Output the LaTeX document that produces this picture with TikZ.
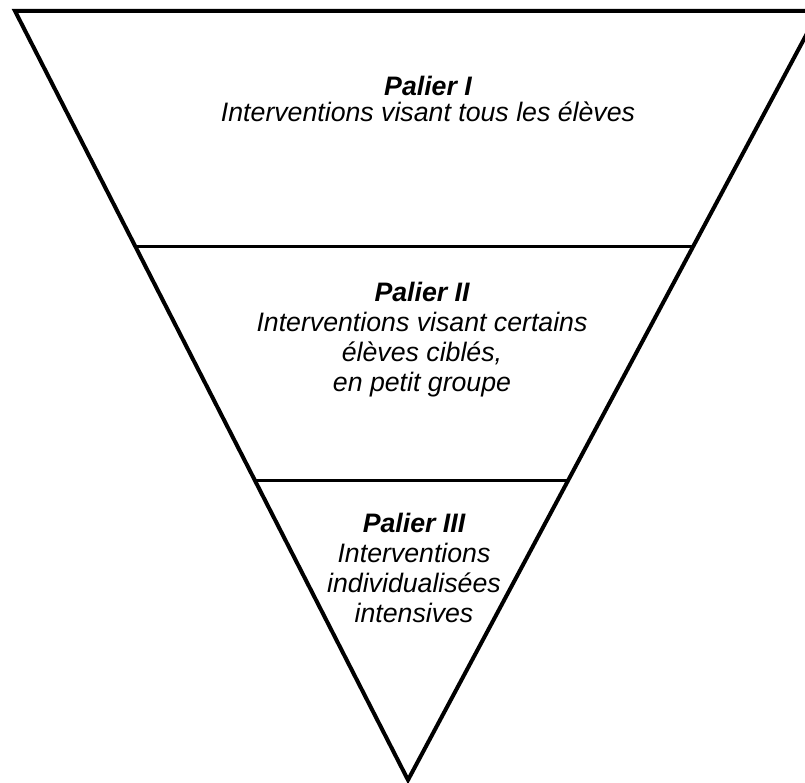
\documentclass[tikz,border=0pt]{standalone}
\usepackage{fontspec}
\setmainfont{Liberation Sans}
\usetikzlibrary{calc}
\begin{document}
\begin{tikzpicture}[x=1pt, y=1pt, edge/.style={line width=4pt, miter limit=20},
  tier/.style={line width=3pt},
  lbl/.style={align=center, anchor=base, font=\fontsize{26.7}{30}\selectfont\itshape, inner sep=0pt}]
\useasboundingbox (0,0) rectangle (805,782);
\clip (0,0) rectangle (805,782);
\coordinate (tl) at (15,771);
\coordinate (tr) at (819,771);
\coordinate (apex) at (408,2);
\draw[edge] (tl) -- (tr) -- (apex) -- cycle;
%tier lines
\draw[tier] ($(tl)!0.3056!(apex)$) -- ($(tr)!0.3056!(apex)$);
\draw[tier] ($(tl)!0.611!(apex)$) -- ($(tr)!0.611!(apex)$);
%palier 1
\path (428,660) node[lbl] (p1) {\textbf{Palier I}\\[-4pt]Interventions visant tous les élèves};
%palier 2
\path (422,390) node[lbl] (p2) {\textbf{Palier II}\\Interventions visant certains\\élèves ciblés,\\en petit groupe};
%palier 3
\path (414,160) node[lbl] (p3) {\textbf{Palier III}\\Interventions\\individualisées\\intensives};
\end{tikzpicture}
\end{document}
